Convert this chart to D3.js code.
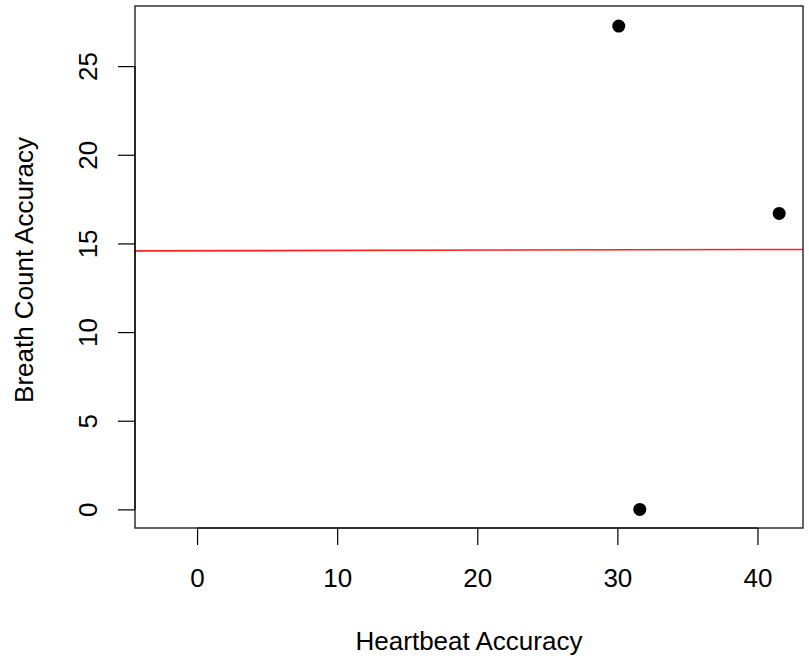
<!DOCTYPE html>
<html><head><meta charset="utf-8">
<script src="https://cdn.jsdelivr.net/npm/d3@7"></script>
<style>body{margin:0;background:#fff}svg text{font-family:"Liberation Sans",Arial,sans-serif;fill:#000}</style>
</head><body>
<svg id="c" width="809" height="666"></svg>
<script>
const heartbeat = [30.1, 41.55, 31.6];
const breath = [27.26, 16.69, 0];
const xTicks = [0, 10, 20, 30, 40];
const yTicks = [0, 5, 10, 15, 20, 25];
const fitIntercept = 14.587;
const fitSlope = 0.0017;
const xLabel = "Heartbeat Accuracy";
const yLabel = "Breath Count Accuracy";

const L = 135, R = 803, T = 6, B = 528;
const x = d3.scaleLinear().domain([-4.43, 43.25]).range([L, R]);
const y = d3.scaleLinear().domain([-1.05, 28.39]).range([B, T]);
const svg = d3.select("#c");
const fs = 26;

svg.append("clipPath").attr("id","clip").append("rect").attr("x",L).attr("y",T).attr("width",R-L).attr("height",B-T);
const xd = x.domain();
svg.append("line").attr("clip-path","url(#clip)")
  .attr("x1", x(xd[0])).attr("x2", x(xd[1]))
  .attr("y1", y(fitIntercept + fitSlope*xd[0])).attr("y2", y(fitIntercept + fitSlope*xd[1]))
  .attr("stroke","#ff2020").attr("stroke-width",1.6);

svg.selectAll("circle.p").data(heartbeat.map((h,i)=>[h,breath[i]])).enter().append("circle")
  .attr("cx",d=>x(d[0])).attr("cy",d=>y(d[1])).attr("r",6.5).attr("fill","#000");

svg.append("rect").attr("x",L).attr("y",T).attr("width",R-L).attr("height",B-T)
  .attr("fill","none").attr("stroke","#222").attr("stroke-width",1.4);

const xa = d3.axisBottom(x).tickValues(xTicks).tickSize(17).tickPadding(6).tickSizeOuter(0).tickFormat(d3.format("d"));
const gx = svg.append("g").attr("transform",`translate(0,${B})`).call(xa);
gx.select(".domain").attr("d", `M${x(xTicks[0])},0H${x(xTicks[xTicks.length-1])}`).attr("stroke","#000").attr("stroke-width",1.2);
gx.selectAll(".tick line").attr("stroke","#000").attr("stroke-width",1.2);
gx.selectAll(".tick text").attr("font-size",fs).attr("font-family","Liberation Sans, Arial, sans-serif").attr("fill","#000").attr("dy",null).attr("y",59);

const ya = d3.axisLeft(y).tickValues(yTicks).tickSize(17).tickSizeOuter(0).tickFormat(d3.format("d"));
const gy = svg.append("g").attr("transform",`translate(${L},0)`).call(ya);
gy.select(".domain").attr("d", `M0,${y(yTicks[0])}V${y(yTicks[yTicks.length-1])}`).attr("stroke","#000").attr("stroke-width",1.2);
gy.selectAll(".tick line").attr("stroke","#000").attr("stroke-width",1.2);
gy.selectAll(".tick text").attr("font-size",fs).attr("font-family","Liberation Sans, Arial, sans-serif").attr("fill","#000")
  .attr("x",null).attr("dy",null).attr("text-anchor","middle")
  .attr("transform","translate(-38,0) rotate(-90)");

svg.append("text").attr("x",(L+R)/2).attr("y",650).attr("text-anchor","middle").attr("font-size",fs).text(xLabel);
svg.append("text").attr("transform",`translate(33,${(T+B)/2+3}) rotate(-90)`).attr("text-anchor","middle").attr("font-size",fs).text(yLabel);
</script>
</body></html>
